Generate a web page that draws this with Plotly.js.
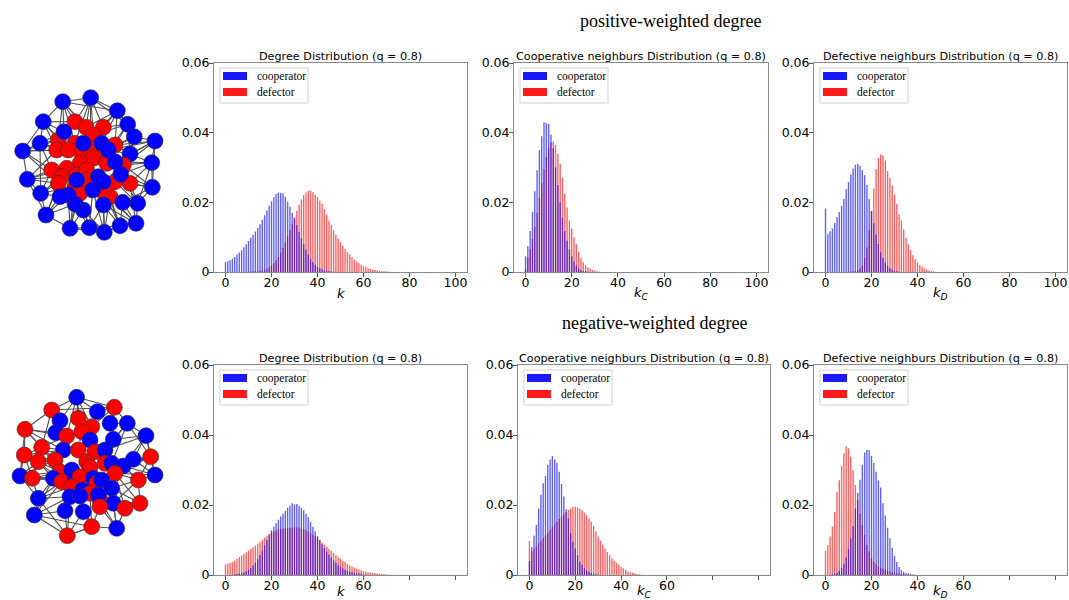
<!DOCTYPE html>
<html>
<head>
<meta charset="utf-8">
<script src="https://cdn.plot.ly/plotly-3.0.1.min.js"></script>
<style>html,body{margin:0;padding:0;background:#fff;}#chart{width:1069px;height:600px;}</style>
</head>
<body>
<div id="chart"></div>
<script>
// ---------------- data ----------------
const seriesNames = ['cooperator', 'defector'];
const rowTitles = ['positive-weighted degree', 'negative-weighted degree'];
const panelTitles = ['Degree Distribution (q = 0.8)', 'Cooperative neighburs Distribution (q = 0.8)', 'Defective neighburs Distribution (q = 0.8)'];
const xLabels = ['<i>k</i>', '<i>k<sub>C</sub></i>', '<i>k<sub>D</sub></i>'];
const xTickValsTop = [0, 20, 40, 60, 80, 100];
const xTickTextTop = ['0', '20', '40', '60', '80', '100'];
const xTickValsBottom = [0, 20, 40, 60];
const xTickTextBottom = ['0', '20', '40', '60'];
const xUnlabelledTicksBottom = [80, 100];
const yTickVals = [0, 0.02, 0.04, 0.06];
const yTickText = ['0', '0.02', '0.04', '0.06'];

// values per k (index = k)
const posDegC = [0.0029,0.0031,0.0034,0.0038,0.0043,0.0050,0.0056,0.0063,0.0071,0.0080,0.0089,0.0098,0.0107,0.0116,0.0126,0.0137,0.0150,0.0163,0.0177,0.0190,0.0203,0.0215,0.0224,0.0228,0.0227,0.0226,0.0216,0.0202,0.0187,0.0170,0.0155,0.0135,0.0115,0.0097,0.0080,0.0064,0.0050,0.0038,0.0029,0.0021,0.0015,0.0011,0.0008,0.0005,0.0004,0.0003,0.0002,0.0001,0.0001];
const posDegD = [0,0,0,0,0,0,0,0,0,0,0.0001,0.0001,0.0002,0.0002,0.0003,0.0004,0.0005,0.0007,0.0010,0.0014,0.0019,0.0025,0.0033,0.0043,0.0055,0.0069,0.0085,0.0102,0.0120,0.0138,0.0157,0.0175,0.0193,0.0208,0.0220,0.0228,0.0233,0.0233,0.0229,0.0222,0.0215,0.0205,0.0195,0.0180,0.0165,0.0148,0.0135,0.0120,0.0108,0.0096,0.0086,0.0076,0.0066,0.0057,0.0050,0.0043,0.0036,0.0030,0.0025,0.0021,0.0017,0.0014,0.0011,0.0009,0.0007,0.0006,0.0005,0.0004,0.0003,0.0002,0.0002,0.0001,0.0001];
const posKcC = [0.0045,0.0075,0.0118,0.0172,0.0232,0.0292,0.0350,0.0390,0.0430,0.0428,0.0425,0.0395,0.0355,0.0300,0.0250,0.0200,0.0155,0.0118,0.0090,0.0065,0.0045,0.0030,0.0018,0.0010,0.0006,0.0003,0.0002,0.0001];
const posKcD = [0.0008,0.0042,0.0065,0.0095,0.0130,0.0170,0.0212,0.0255,0.0295,0.0330,0.0357,0.0372,0.0375,0.0365,0.0340,0.0310,0.0270,0.0225,0.0185,0.0148,0.0125,0.0100,0.0080,0.0058,0.0040,0.0028,0.0019,0.0013,0.0009,0.0006,0.0004,0.0002,0.0001];
const posKdC = [0.0182,0.0109,0.0117,0.0125,0.0141,0.0158,0.0172,0.0190,0.0210,0.0238,0.0258,0.0280,0.0297,0.0308,0.0310,0.0305,0.0292,0.0278,0.0250,0.0210,0.0175,0.0140,0.0108,0.0080,0.0057,0.0040,0.0027,0.0018,0.0011,0.0007,0.0004,0.0002,0.0001];
const posKdD = [0,0,0,0,0,0,0,0,0,0,0.0001,0.0001,0.0002,0.0003,0.0005,0.0010,0.0018,0.0040,0.0070,0.0120,0.0175,0.0240,0.0295,0.0328,0.0337,0.0335,0.0320,0.0290,0.0270,0.0248,0.0222,0.0195,0.0165,0.0148,0.0122,0.0098,0.0080,0.0063,0.0048,0.0037,0.0028,0.0020,0.0015,0.0010,0.0007,0.0005,0.0003,0.0002,0.0001];

const negDegC = [0,0,0,0.0001,0.0002,0.0003,0.0004,0.0006,0.0008,0.0011,0.0015,0.0020,0.0027,0.0035,0.0045,0.0057,0.0070,0.0085,0.0100,0.0115,0.0128,0.0138,0.0148,0.0158,0.0167,0.0175,0.0183,0.0192,0.0198,0.0205,0.0202,0.0203,0.0198,0.0192,0.0185,0.0175,0.0165,0.0152,0.0138,0.0125,0.0112,0.0100,0.0088,0.0077,0.0067,0.0058,0.0050,0.0042,0.0035,0.0029,0.0024,0.0019,0.0015,0.0012,0.0010,0.0008,0.0006,0.0005,0.0004,0.0003,0.0002,0.0001];
const negDegD = [0.0030,0.0032,0.0034,0.0037,0.0041,0.0046,0.0051,0.0056,0.0060,0.0065,0.0070,0.0074,0.0079,0.0084,0.0090,0.0095,0.0101,0.0107,0.0112,0.0117,0.0121,0.0125,0.0128,0.0130,0.0132,0.0133,0.0133,0.0134,0.0135,0.0135,0.0136,0.0136,0.0135,0.0133,0.0131,0.0128,0.0124,0.0120,0.0116,0.0111,0.0106,0.0100,0.0093,0.0087,0.0081,0.0075,0.0069,0.0063,0.0057,0.0051,0.0046,0.0041,0.0037,0.0032,0.0028,0.0024,0.0021,0.0018,0.0016,0.0013,0.0011,0.0009,0.0008,0.0007,0.0006,0.0005,0.0004,0.0003,0.0003,0.0002,0.0002,0.0001,0.0001];
const negKcC = [0.0040,0.0080,0.0113,0.0143,0.0190,0.0229,0.0262,0.0283,0.0314,0.0330,0.0340,0.0330,0.0320,0.0295,0.0260,0.0224,0.0188,0.0162,0.0120,0.0095,0.0076,0.0057,0.0038,0.0029,0.0019,0.0013,0.0009,0.0006,0.0004,0.0002,0.0001];
const negKcD = [0.0097,0.0068,0.0075,0.0082,0.0090,0.0097,0.0105,0.0113,0.0121,0.0129,0.0137,0.0145,0.0152,0.0160,0.0167,0.0174,0.0180,0.0186,0.0190,0.0194,0.0195,0.0193,0.0190,0.0185,0.0178,0.0171,0.0162,0.0152,0.0140,0.0125,0.0110,0.0098,0.0087,0.0076,0.0066,0.0057,0.0048,0.0041,0.0035,0.0029,0.0024,0.0019,0.0015,0.0011,0.0008,0.0006,0.0004,0.0003,0.0002,0.0001,0.0001];
const negKdC = [0,0,0.0001,0.0002,0.0004,0.0007,0.0012,0.0020,0.0032,0.0050,0.0075,0.0105,0.0140,0.0190,0.0235,0.0272,0.0315,0.0350,0.0357,0.0357,0.0340,0.0320,0.0295,0.0270,0.0250,0.0205,0.0170,0.0135,0.0105,0.0078,0.0055,0.0037,0.0023,0.0014,0.0009,0.0006,0.0004,0.0003,0.0002,0.0001];
const negKdD = [0.0069,0.0085,0.0110,0.0138,0.0180,0.0238,0.0271,0.0312,0.0348,0.0367,0.0362,0.0338,0.0300,0.0257,0.0214,0.0176,0.0143,0.0114,0.0086,0.0067,0.0048,0.0038,0.0030,0.0024,0.0021,0.0018,0.0015,0.0012,0.0010,0.0008,0.0006,0.0005,0.0004,0.0003,0.0002,0.0001,0.0001];

// network snapshots (node positions, type C = cooperator, D = defector)
const topNodeX = [62.7,90.7,117.3,43.3,127.7,134.3,155,40,22.7,151.7,27.3,152.3,40.7,137.7,46,136,120,70,89.3,104.3,130,
  75,86,103.3,58.3,75,93.3,115,56.7,68.3,81.7,90,100,93.3,80,66.7,51.7,61.7,76.7,86.7,106.7,123.3,130,115,58.3,75,110,86.7,103.3,80,
  64,101.7,108.3,83.3,115,120.7,98.3,103.3,92.7,103.3,122.7,83.3,75,68.3,60,76.7];
const topNodeY = [101.7,97.7,110.7,121.7,124.3,136.7,141,143.3,151,162.7,179.3,187.3,193.3,203.3,215,223.3,225.7,228.3,227.7,232.3,154,
  121.7,127.3,127.3,140,143.3,135,145,150,150,153.3,148.3,153.3,158.3,163.3,168.3,170,176.7,175,170,163.3,165,183.3,181.7,183.3,186.7,196.7,180,191.7,193.3,
  131.7,143.3,150,143.3,161.7,174.3,176.7,181.7,190,205,202.3,210,204,195,196.7,180];
const topNodeType = ['C','C','C','C','C','C','C','C','C','C','C','C','C','C','C','C','C','C','C','C','C',
  'D','D','D','D','D','D','D','D','D','D','D','D','D','D','D','D','D','D','D','D','D','D','D','D','D','D','D','D','D',
  'C','C','C','C','C','C','C','C','C','C','C','C','C','C','C','C'];
const topEdges = [[0,1],[1,2],[2,4],[4,5],[5,6],[6,9],[9,20],[9,11],[11,13],[13,15],[15,16],[16,19],[19,18],[18,17],[17,14],[14,12],[12,10],[10,8],[8,7],[7,3],[3,0],
  [0,2],[3,8],[6,11],[10,14],[16,18],[13,9],[7,12],[2,5],[17,19],[1,4],
  [0,21],[0,22],[0,24],[0,25],[0,50],[0,26],[1,22],[1,23],[1,26],[1,21],[1,31],[1,25],[2,23],[2,26],[2,27],[2,22],[2,51],
  [3,24],[3,21],[3,28],[3,50],[3,29],[4,23],[4,27],[4,52],[4,26],[4,20],[5,27],[5,20],[5,52],[5,41],[6,20],[6,41],[6,27],[6,52],[6,54],
  [7,24],[7,28],[7,29],[7,36],[7,50],[8,28],[8,36],[8,24],[8,44],[8,29],[9,41],[9,54],[9,55],[9,42],[9,40],[10,36],[10,44],[10,37],[10,35],[10,28],
  [11,42],[11,55],[11,41],[11,43],[11,60],[12,44],[12,37],[12,64],[12,36],[12,45],[13,42],[13,60],[13,46],[13,55],[13,43],
  [14,64],[14,44],[14,63],[14,37],[14,62],[15,60],[15,46],[15,59],[15,42],[15,48],[16,59],[16,46],[16,60],[16,48],[16,57],
  [17,62],[17,63],[17,61],[17,49],[17,45],[18,61],[18,49],[18,58],[18,59],[18,62],[19,59],[19,48],[19,58],[19,61],[19,46],[20,27],[20,52],[20,41],[20,54]];

const botNodeX = [76.7,51.7,114.3,97.3,60,78.3,110,127.3,25,55.7,91.7,146,66.7,81.7,113.3,41.7,90,24.3,63.3,78.3,95,105,150.7,38.3,55,133.3,86.7,105,111.7,123.3,20,32.3,155,60,71.7,90,115,138.3,53.3,61.7,75,80,93.3,96.7,101.7,111.7,71.7,82.7,90,70,80,100,98.3,38.3,140,113.3,125,65,83.3,100,34.3,91.7,116.7,67.3];
const botNodeY = [397.3,410,407.3,411.7,420.7,418.3,423.3,423.3,429.3,432.7,426.7,435.7,436,431.7,439.3,447.3,440,455,450,450,451.7,450,456.7,461.7,460,459.3,461.7,463.3,463.3,466,476,478.3,475,471.7,470,467.3,473.3,480,478.3,481.7,479.3,476.7,478.3,483.3,480,488.3,486.7,490,493.3,496.7,496,500,495,498.3,503.3,503.3,508.3,510.7,511.7,506.7,515,526.7,528.3,535.7];
const botNodeType = ['C','D','D','C','C','D','C','C','D','C','D','C','D','D','C','D','C','D','C','D','D','C','D','D','D','C','D','D','C','C','C','D','C','D','C','D','D','D','C','D','C','D','C','D','C','C','D','C','D','C','C','D','C','C','D','C','D','C','C','D','C','D','C','D'];
const botEdges = [[0,1],[0,2],[0,3],[1,8],[1,4],[2,7],[2,6],[7,11],[11,22],[22,32],[32,37],[37,54],[54,56],[56,62],[62,61],[61,63],[63,60],[60,53],[53,30],[30,17],[17,8],[8,15],[17,23],[23,31],[31,30],
  [0,5],[0,12],[0,13],[0,10],[0,4],[1,9],[1,12],[1,4],[1,15],[2,10],[2,6],[2,14],[2,3],[8,9],[8,15],[8,12],[8,18],
  [11,14],[11,25],[11,29],[11,21],[17,15],[17,24],[17,18],[17,23],[22,25],[22,29],[22,36],[22,28],[30,38],[30,23],[30,33],[30,24],
  [32,37],[32,29],[32,36],[32,25],[37,36],[37,45],[37,29],[37,55],[53,38],[53,49],[53,46],[53,39],[54,55],[54,45],[54,36],[54,51],
  [60,57],[60,49],[60,39],[60,38],[61,58],[61,59],[61,48],[61,50],[62,55],[62,59],[62,51],[62,45],[63,57],[63,58],[63,49],[63,61],
  [56,55],[56,45],[56,59],[56,36],[7,14],[7,6],[7,21],[7,28],[15,18],[15,24],[15,12],[15,33],[23,33],[23,24],[23,38],[23,39],[31,38],[31,33],[31,39],[31,53],
  [5,13],[10,16],[13,19],[16,20],[20,26],[26,35],[35,42],[42,43],[43,48],[48,47],[47,50],[40,41],[41,46],[34,40],[19,26],[21,27],[27,28],[28,36],[44,52],
  [8,30],[11,32],[22,37],[60,61],[53,63],[1,2],[7,22],[17,31]];

// ---------------- layout helpers ----------------
const W = 1069, H = 600;
const px = v => v / W;
const py = v => 1 - v / H;
const rowPix = [[63, 272], [365, 575]];
const colPix = [[[214, 467], [514, 768], [814, 1067]], [[214, 467], [518, 770], [814, 1067]]];
const xLabelY = [293, 591];
const colors = {C: '#0000ff', D: '#ff0000'};

const panels = [
  {row: 0, col: 0, c: posDegC, d: posDegD},
  {row: 0, col: 1, c: posKcC, d: posKcD},
  {row: 0, col: 2, c: posKdC, d: posKdD},
  {row: 1, col: 0, c: negDegC, d: negDegD},
  {row: 1, col: 1, c: negKcC, d: negKcD},
  {row: 1, col: 2, c: negKdC, d: negKdD}
];

const traces = [];
const layout = {
  width: W, height: H,
  margin: {l: 0, r: 0, t: 0, b: 0},
  paper_bgcolor: '#fff', plot_bgcolor: '#fff',
  barmode: 'overlay',
  hovermode: false,
  showlegend: false,
  font: {family: 'DejaVu Sans', color: '#000'},
  annotations: [],
  shapes: []
};

const idx = arr => arr.map((_, i) => i);

panels.forEach((p, i) => {
  const n = i + 1;
  const xa = 'x' + n, ya = 'y' + n;
  const cx = colPix[p.row][p.col], ry = rowPix[p.row];
  traces.push({
    type: 'bar', x: idx(p.d), y: p.d, width: 0.6, name: seriesNames[1],
    marker: {color: colors.D, line: {width: 0}}, opacity: 0.62,
    xaxis: xa, yaxis: ya
  });
  traces.push({
    type: 'bar', x: idx(p.c), y: p.c, width: 0.6, name: seriesNames[0],
    marker: {color: colors.C, line: {width: 0}}, opacity: 0.62,
    xaxis: xa, yaxis: ya
  });
  const axBase = {
    showgrid: false, zeroline: false, showline: true, linecolor: '#8a8a8a', linewidth: 1, mirror: true,
    ticks: 'outside', ticklen: 4, tickwidth: 1, tickcolor: '#555',
    tickfont: {family: 'DejaVu Sans', size: 12.5, color: '#000'}
  };
  const xa_obj = Object.assign({}, axBase, {
    domain: [px(cx[0]), px(cx[1])], anchor: ya, range: [-5, 105],
    tickmode: 'array',
    tickvals: p.row === 0 ? xTickValsTop : xTickValsBottom,
    ticktext: p.row === 0 ? xTickTextTop : xTickTextBottom,
    ticklabelstandoff: -5
  });
  if (p.row === 1) {
    xa_obj.minor = {tickmode: 'array', tickvals: xUnlabelledTicksBottom, ticks: 'outside', ticklen: 4, tickwidth: 1, tickcolor: '#555', showgrid: false};
  }
  layout['xaxis' + n] = xa_obj;
  layout['yaxis' + n] = Object.assign({}, axBase, {
    domain: [py(ry[1]), py(ry[0])], anchor: xa, range: [0, 0.06],
    tickmode: 'array', tickvals: yTickVals, ticktext: yTickText,
    ticklabelstandoff: -3
  });
  // subplot title
  layout.annotations.push({
    xref: 'paper', yref: 'paper', x: px((cx[0] + cx[1]) / 2), y: py(ry[0]),
    xanchor: 'center', yanchor: 'bottom', yshift: -2, showarrow: false,
    text: panelTitles[p.col], font: {family: 'DejaVu Sans', size: 11.2, color: '#000'}
  });
  // x axis label
  layout.annotations.push({
    xref: 'paper', yref: 'paper', x: px((cx[0] + cx[1]) / 2), y: py(xLabelY[p.row]),
    xanchor: 'center', yanchor: 'middle', showarrow: false,
    text: xLabels[p.col], font: {family: 'DejaVu Sans', size: 13, color: '#000'}
  });
  // legend (box, patches, labels)
  const L = cx[0], T = ry[0];
  layout.shapes.push({type: 'rect', xref: 'paper', yref: 'paper', layer: 'above',
    x0: px(L + 6), x1: px(L + 94), y0: py(T + 5), y1: py(T + 40),
    line: {color: '#d0d0d0', width: 1}, fillcolor: 'rgba(255,255,255,0.8)'});
  [['C', 13], ['D', 29]].forEach(([t, dy], j) => {
    layout.shapes.push({type: 'rect', xref: 'paper', yref: 'paper', layer: 'above',
      x0: px(L + 9), x1: px(L + 33), y0: py(T + dy + 4), y1: py(T + dy - 4),
      line: {width: 0}, fillcolor: colors[t], opacity: 0.9});
    layout.annotations.push({xref: 'paper', yref: 'paper', x: px(L + 41), y: py(T + dy),
      xanchor: 'left', yanchor: 'middle', showarrow: false,
      text: seriesNames[j], font: {family: 'Liberation Serif', size: 11.5, color: '#000'}});
  });
});

// row titles
layout.annotations.push({xref: 'paper', yref: 'paper', x: px(670), y: py(21), xanchor: 'center', yanchor: 'middle', showarrow: false,
  text: rowTitles[0], font: {family: 'Liberation Serif', size: 18, color: '#000'}});
layout.annotations.push({xref: 'paper', yref: 'paper', x: px(654), y: py(323), xanchor: 'center', yanchor: 'middle', showarrow: false,
  text: rowTitles[1], font: {family: 'Liberation Serif', size: 18, color: '#000'}});

// networks
function addNetwork(nx, ny, ntype, edges, n, pixY) {
  const ex = [], ey = [];
  edges.forEach(([a, b]) => { ex.push(nx[a], nx[b], null); ey.push(ny[a], ny[b], null); });
  traces.push({type: 'scatter', mode: 'lines', x: ex, y: ey, line: {color: '#505050', width: 1.1},
    xaxis: 'x' + n, yaxis: 'y' + n, showlegend: false, hoverinfo: 'skip'});
  traces.push({type: 'scatter', mode: 'markers', x: nx, y: ny,
    marker: {size: 16, color: ntype.map(t => colors[t]), line: {color: '#333', width: 0.6}, opacity: 1},
    xaxis: 'x' + n, yaxis: 'y' + n, showlegend: false});
  layout['xaxis' + n] = {domain: [0, px(175)], range: [0, 175], visible: false, anchor: 'y' + n, fixedrange: true};
  layout['yaxis' + n] = {domain: [py(pixY[1]), py(pixY[0])], range: [pixY[1], pixY[0]], visible: false, anchor: 'x' + n, fixedrange: true};
}
addNetwork(topNodeX, topNodeY, topNodeType, topEdges, 7, [80, 250]);
addNetwork(botNodeX, botNodeY, botNodeType, botEdges, 8, [385, 555]);

Plotly.newPlot('chart', traces, layout, {staticPlot: true, displayModeBar: false});
</script>
</body>
</html>
